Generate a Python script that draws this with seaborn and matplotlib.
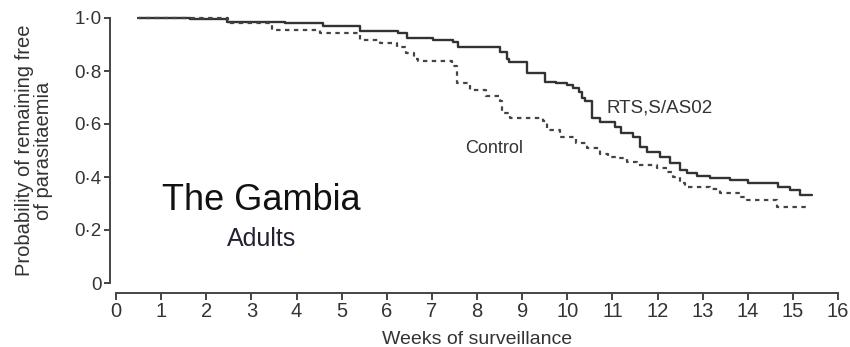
import matplotlib
matplotlib.use("Agg")
import matplotlib.pyplot as plt
import seaborn as sns
import pandas as pd

# --- data ---
rts_weeks = [0.5, 1.64, 2.46, 3.75, 4.59, 5.41, 6.25, 6.45, 7.03, 7.47, 7.58, 8.51,
             8.66, 8.72, 9.1, 9.51, 9.75, 10.0, 10.13, 10.25, 10.32, 10.4, 10.55, 10.73,
             11.06, 11.2, 11.46, 11.61, 11.77, 12.06, 12.28, 12.5, 12.65, 12.88, 13.16,
             13.61, 14.01, 14.68, 14.94, 15.16, 15.42]
rts_surv = [1.0, 0.997, 0.986, 0.98, 0.97, 0.952, 0.942, 0.923, 0.917, 0.911, 0.892, 0.872,
            0.846, 0.835, 0.792, 0.76, 0.753, 0.747, 0.735, 0.72, 0.70, 0.688, 0.623, 0.609,
            0.59, 0.565, 0.552, 0.514, 0.495, 0.477, 0.452, 0.426, 0.414, 0.404, 0.395,
            0.389, 0.379, 0.364, 0.351, 0.332, 0.332]

ctl_weeks = [0.47, 2.48, 3.46, 4.52, 5.41, 5.85, 6.23, 6.42, 6.6, 6.7, 7.44, 7.55, 7.84,
             8.21, 8.51, 8.55, 8.73, 9.46, 9.55, 9.84, 10.2, 10.43, 10.73, 10.9, 11.1,
             11.32, 11.54, 11.98, 12.2, 12.35, 12.5, 12.6, 13.16, 13.39, 13.83, 13.98,
             14.65, 15.31]
ctl_surv = [1.0, 0.98, 0.955, 0.942, 0.917, 0.905, 0.892, 0.867, 0.845, 0.836, 0.817, 0.754,
            0.728, 0.704, 0.685, 0.64, 0.622, 0.613, 0.577, 0.552, 0.527, 0.508, 0.487,
            0.477, 0.47, 0.458, 0.445, 0.433, 0.42, 0.401, 0.376, 0.364, 0.353, 0.341,
            0.326, 0.313, 0.288, 0.288]

x_ticks = list(range(0, 17))
y_ticks = [0, 0.2, 0.4, 0.6, 0.8, 1.0]
y_tick_labels = ["0", "0·2", "0·4", "0·6", "0·8", "1·0"]

sns.set_style("ticks")
plt.rcParams["font.family"] = ["Liberation Sans", "DejaVu Sans"]

W, H = 850, 347
fig = plt.figure(figsize=(W / 100, H / 100), dpi=100)
ax = fig.add_axes([116 / W, 1 - 283 / H, (838 - 116) / W, (283 - 18) / H])

line_col = "#333333"
rts = pd.DataFrame({"week": rts_weeks, "surv": rts_surv})
ctl = pd.DataFrame({"week": ctl_weeks, "surv": ctl_surv})
sns.lineplot(data=rts, x="week", y="surv", ax=ax, estimator=None, sort=False,
             drawstyle="steps-post", color=line_col, linewidth=1.7, clip_on=False)
sns.lineplot(data=ctl, x="week", y="surv", ax=ax, estimator=None, sort=False,
             drawstyle="steps-post", color="#444444", linewidth=1.6,
             dashes=False, linestyle=(0, (2.0, 2.0)), clip_on=False)

ax.set_xlim(0, 16)
ax.set_ylim(0, 1)
ax.set_xticks(x_ticks)
ax.set_xticklabels([str(v) for v in x_ticks])
ax.set_yticks(y_ticks)
ax.set_yticklabels(y_tick_labels)

for s in ["top", "right"]:
    ax.spines[s].set_visible(False)
ax.spines["bottom"].set_position(("outward", 7))
ax.spines["left"].set_position(("outward", 4.5))
ax.spines["bottom"].set_bounds(0, 16)
ax.spines["left"].set_bounds(0, 1)
for s in ["bottom", "left"]:
    ax.spines[s].set_color("#444444")
    ax.spines[s].set_linewidth(1.4)

ax.tick_params(axis="x", direction="out", length=5, width=1.4, color="#444444",
               labelsize=14.5, labelcolor="#333333", pad=1.5)
ax.tick_params(axis="y", direction="out", length=4, width=1.4, color="#444444",
               labelsize=13.5, labelcolor="#333333", pad=2)

ax.set_xlabel("Weeks of surveillance", fontsize=14, color="#333333")
ax.xaxis.set_label_coords(0.5, -0.18)
ax.set_ylabel("Probability of remaining free\nof parasitaemia", fontsize=14.5,
              color="#333333", linespacing=1.0)
ax.yaxis.set_label_coords(-0.087, 0.5)

ax.text(3.21, 0.313, "The Gambia", fontsize=26, color="#111111", ha="center", va="center")
ax.text(3.22, 0.166, "Adults", fontsize=18, color="#222233", ha="center", va="center")
ax.text(10.88, 0.662, "RTS,S/AS02", fontsize=13.5, color="#333333", ha="left", va="center")
ax.text(7.73, 0.506, "Control", fontsize=13, color="#333333", ha="left", va="center")

fig.savefig("out.png", dpi=100)
